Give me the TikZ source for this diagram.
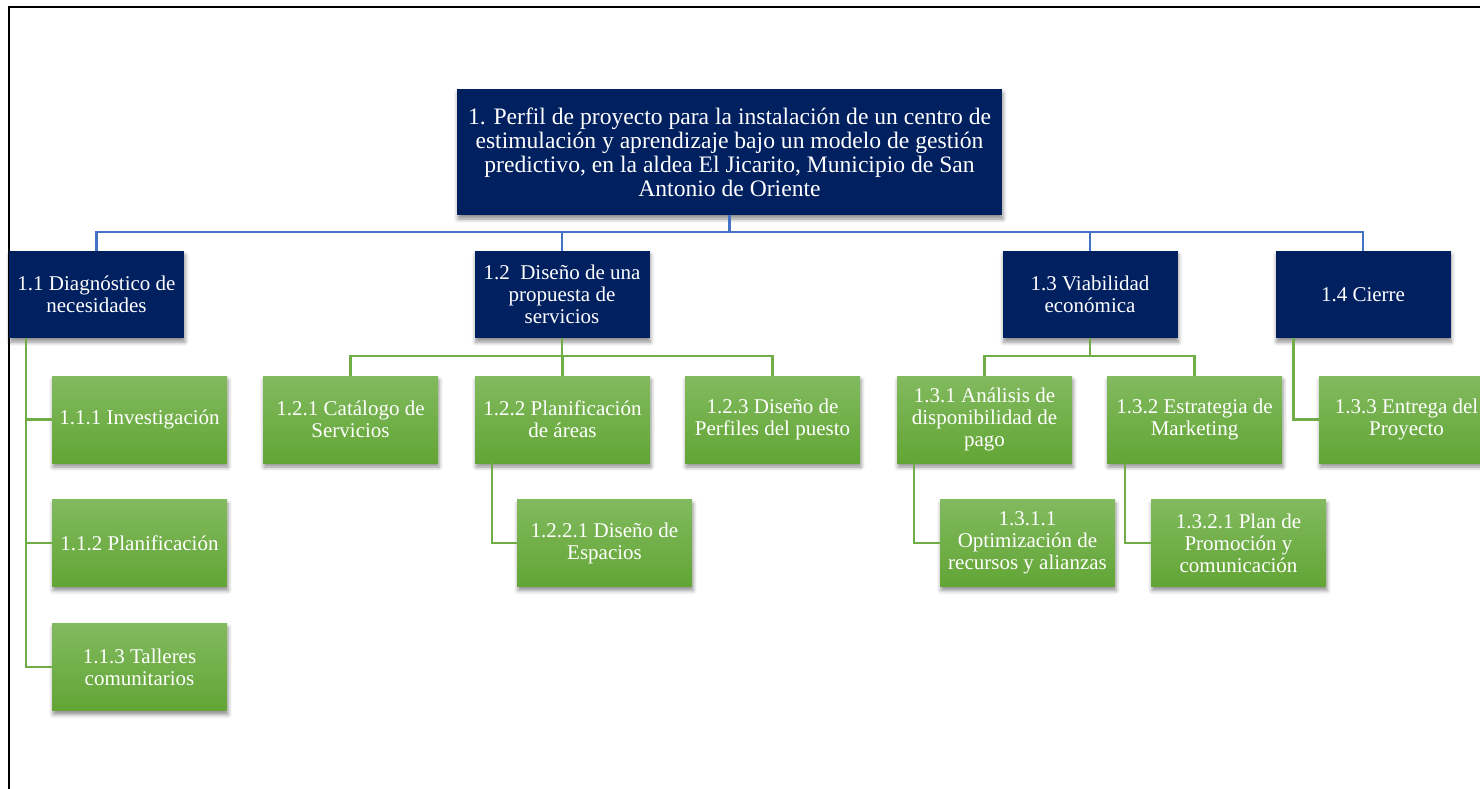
\documentclass[tikz,border=0pt]{standalone}
\usepackage{fontspec}
\setmainfont{Liberation Serif}
\usetikzlibrary{shadows.blur}
\definecolor{navy}{HTML}{002060}
\definecolor{gtop}{HTML}{82BA5F}
\definecolor{gbot}{HTML}{62A535}
\definecolor{gline}{HTML}{70AD47}
\definecolor{bline}{HTML}{4472C4}
\begin{document}
\begin{tikzpicture}[x=1pt,y=-1pt,
  box/.style={minimum width=175pt, minimum height=87pt, inner sep=0pt, align=center,
    text=white, font=\fontsize{21}{22}\selectfont,
    blur shadow={shadow xshift=1pt, shadow yshift=-4pt, shadow blur radius=4pt, shadow opacity=45}},
  navybox/.style={box, fill=navy},
  greenbox/.style={box, top color=gtop, bottom color=gbot},
  rootbox/.style={navybox, minimum width=545pt, minimum height=126pt,
    font=\fontsize{23.6}{24}\selectfont},
  blink/.style={draw=bline, line width=2.5pt},
  glink/.style={draw=gline, line width=2.5pt},
  frameline/.style={draw=black, line width=2pt}]
\useasboundingbox (0,0) rectangle (1480,789);
\clip (0,0) rectangle (1480,789);
\coordinate (ftl) at (9,7);
\coordinate (ftr) at (1481,7);
\coordinate (fbl) at (9,790);
\draw[frameline] (ftr) -- (ftl) -- (fbl);

\node[rootbox] (root) at (729.5,152) {1. Perfil de proyecto para la instalación de un centro de\\estimulación y aprendizaje bajo un modelo de gestión\\predictivo, en la aldea El Jicarito, Municipio de San\\Antonio de Oriente};

\node[navybox] (n11) at (96.5,294.5) {1.1 Diagnóstico de\\necesidades};
\node[navybox] (n12) at (562,294.5) {1.2\ \ Diseño de una\\propuesta de\\servicios};
\node[navybox] (n13) at (1090,294.5) {1.3 Viabilidad\\económica};
\node[navybox] (n14) at (1363,294.5) {1.4 Cierre};

\node[greenbox] (n111) at (139.5,419.5) {1.1.1 Investigación};
\node[greenbox] (n112) at (139.5,543) {1.1.2 Planificación};
\node[greenbox] (n113) at (139.5,667) {1.1.3 Talleres\\comunitarios};

\node[greenbox] (n121) at (350.5,419.5) {1.2.1 Catálogo de\\Servicios};
\node[greenbox] (n122) at (562.5,419.5) {1.2.2 Planificación\\de áreas};
\node[greenbox] (n123) at (772.5,419.5) {1.2.3 Diseño de\\Perfiles del puesto};
\node[greenbox] (n1221) at (604.5,543) {1.2.2.1 Diseño de\\Espacios};

\node[greenbox] (n131) at (984.5,419.5) {1.3.1 Análisis de\\disponibilidad de\\pago};
\node[greenbox] (n132) at (1194.5,419.5) {1.3.2 Estrategia de\\Marketing};
\node[greenbox] (n1311) at (1027.5,543) {1.3.1.1\\Optimización de\\recursos y alianzas};
\node[greenbox] (n1321) at (1238.5,543) {1.3.2.1 Plan de\\Promoción y\\comunicación};

\node[greenbox] (n133) at (1406.5,419.5) {1.3.3 Entrega del\\Proyecto};

% blue connectors
\foreach \c in {n11,n12,n13,n14}
  \draw[blink] (root.south) -- ++(0,17) -| (\c.north);

% green connectors 1.1
\foreach \c in {n111,n112,n113}
  \draw[glink] ([xshift=17pt]n11.south west) |- (\c.west);
% 1.2
\foreach \c in {n121,n122,n123}
  \draw[glink] (n12.south) -- ++(0,18) -| (\c.north);
\draw[glink] ([xshift=17pt]n122.south west) |- (n1221.west);
% 1.3
\foreach \c in {n131,n132}
  \draw[glink] (n13.south) -- ++(0,18) -| (\c.north);
\draw[glink] ([xshift=17pt]n131.south west) |- (n1311.west);
\draw[glink] ([xshift=18pt]n132.south west) |- (n1321.west);
% 1.4
\draw[glink] ([xshift=18pt]n14.south west) |- (n133.west);
\end{tikzpicture}
\end{document}
